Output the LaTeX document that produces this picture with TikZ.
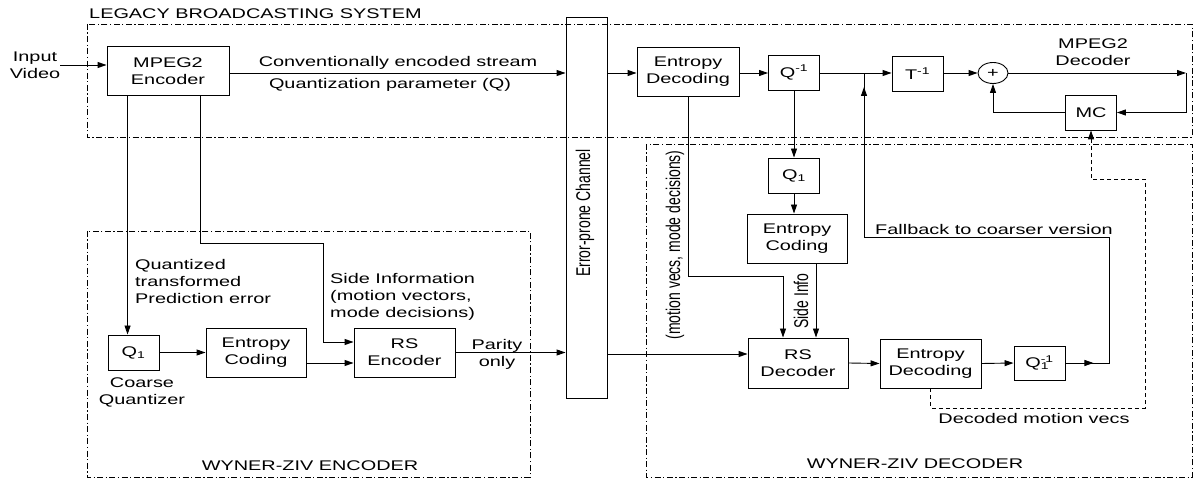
\documentclass[tikz,border=0pt]{standalone}
\usepackage{fontspec}
\setmainfont{Liberation Sans}[FakeStretch=1.42]
\newfontfamily\rotfont{Liberation Sans}
\usetikzlibrary{arrows.meta,shapes.geometric}

\begin{document}
\begin{tikzpicture}[x=1pt, y=-1pt, font=\fontsize{14}{17}\selectfont,
  blk/.style={draw, line width=0.9pt, inner sep=0pt, align=center},
  lbl/.style={inner sep=0pt, align=center},
  wire/.style={line width=0.9pt},
  arr/.style={line width=0.9pt, -{Triangle[length=9pt,width=6pt]}},
  zone/.style={line width=0.8pt, dash pattern=on 6pt off 2.5pt on 1.2pt off 2.5pt},
  vtxt/.style={inner sep=0pt, xscale=1.42, rotate=90, font=\rotfont\fontsize{14}{17}\selectfont}]

	\useasboundingbox (0,0) rectangle (1194,478);

	% zone
	\draw[zone] (87,24) rectangle (1192,137);
	\draw[zone] (87,231) rectangle (530,477);
	\draw[zone] (646,144) rectangle (1192,477);
	\node[lbl, anchor=west] (legacy) at (89,14) {LEGACY BROADCASTING SYSTEM};
	\node[lbl] (wzenc) at (310,466) {WYNER-ZIV ENCODER};
	\node[lbl] (wzdec) at (915,464) {WYNER-ZIV DECODER};

	\coordinate (row) at (0,73);

	% MPEG2 encoder
	\node[lbl] (inp) at (35,65) {Input\\Video};
	\node[blk, minimum width=122pt, minimum height=49pt] (enc) at (168,71) {MPEG2\\Encoder};

	% canale
	\node[blk, minimum width=41pt, minimum height=381pt] (chan) at (586.5,207.5) {};
	\node[vtxt] (chantxt) at (585,213) {Error-prone Channel};

	% MPEG2 decoder
	\node[blk, minimum width=102pt, minimum height=49pt] (entdec) at (688,71.5) {Entropy\\Decoding};
	\node[blk, minimum width=51pt, minimum height=35pt] (qinv) at (794,72.5) {Q\textsuperscript{-1}};
	\node[blk, minimum width=51pt, minimum height=35pt] (tinv) at (917.5,73.5) {T\textsuperscript{-1}};
	\node[blk, ellipse, minimum width=30pt, minimum height=21pt] (sum) at (993,73) {+};
	\node[blk, minimum width=51pt, minimum height=35pt] (mc) at (1091,112.5) {MC};
	\node[lbl] (mpegdec) at (1093,52) {MPEG2\\Decoder};

	\node[lbl] (stream) at (398,63) {Conventionally encoded stream};
	\node[lbl] (qpar) at (390,85) {Quantization parameter (Q)};

	\draw[arr] (inp.east) -- (inp.east -| enc.west);
	\draw[arr] (enc.east |- row) -- (chan.west |- row);
	\draw[arr] (chan.east |- row) -- (entdec.west |- row);
	\draw[arr] (entdec.east |- row) -- (qinv.west |- row);
	\draw[arr] (qinv.east |- row) -- (tinv.west |- row);
	\draw[arr] (tinv.east |- row) -- (sum.west);

	\coordinate (out) at (1186,73);
	\draw[arr] (sum.east) -- (out);
	\draw[arr] (out) |- (mc.east);
	\draw[arr] (mc.west) -| (sum.south);

	% Wyner-Ziv encoder
	\node[blk, minimum width=51pt, minimum height=35pt] (q1e) at (133.5,352.5) {Q\textsubscript{1}};
	\node[blk, minimum width=100pt, minimum height=49pt] (ece) at (256,352.5) {Entropy\\Coding};
	\node[blk, minimum width=101pt, minimum height=49pt] (rse) at (404.5,352.5) {RS\\Encoder};
	\node[lbl] (coarse) at (142,392) {Coarse\\Quantizer};
	\node[lbl, align=left, anchor=west] (qte) at (135,281) {Quantized\\transformed\\Prediction error};
	\node[lbl, align=left, anchor=west] (sinfo) at (330,297) {Side Information\\(motion vectors,\\mode decisions)};
	\node[lbl] (parity) at (497,354) {Parity\\only};

	\coordinate (e1) at ([xshift=21pt]enc.south west);
	\coordinate (e2) at ([xshift=94pt]enc.south west);
	\coordinate (sib) at (323,243);
	\draw[arr] (e1) -- (e1 |- q1e.north);
	\draw[arr] (e2) |- (sib) |- ([yshift=10.5pt]rse.west);
	\draw[arr] (q1e.east) -- (ece.west);
	\draw[arr] ([yshift=-10.5pt]ece.east) -- ([yshift=-10.5pt]rse.west);
	\draw[arr] (rse.east) -- (rse.east -| chan.west);

	% Wyner-Ziv decoder
	\node[blk, minimum width=51pt, minimum height=35pt] (q1d) at (794,175.5) {Q\textsubscript{1}};
	\node[blk, minimum width=100pt, minimum height=49pt] (ecd) at (797,238.5) {Entropy\\Coding};
	\node[blk, minimum width=100pt, minimum height=50pt] (rsd) at (798,363) {RS\\Decoder};
	\node[blk, minimum width=101pt, minimum height=49pt] (edd) at (930.5,363.5) {Entropy\\Decoding};
	\node[blk, minimum width=51pt, minimum height=34pt] (q1inv) at (1039.5,363) {Q\rlap{\textsubscript{1}}\textsuperscript{-1}};

	\node[vtxt] (mvtxt) at (675,245) {(motion vecs, mode decisions)};
	\node[vtxt] (sitxt) at (801,301) {Side Info};
	\node[lbl] (fbtxt) at (994,229) {Fallback to coarser version};
	\node[lbl] (dmv) at (1034,418) {Decoded motion vecs};

	\draw[arr] (qinv.south) -- (q1d.north);
	\draw[arr] (q1d.south) -- (q1d.south |- ecd.north);

	\coordinate (mv) at (783,276);
	\draw[arr] (entdec.south) |- (mv) -- (mv |- rsd.north);
	\coordinate (si) at ([xshift=19pt]ecd.south);
	\draw[arr] (si) -- (si |- rsd.north);

	\coordinate (rsin) at ([yshift=9pt]rsd.west);
	\draw[arr] (rsin -| chan.east) -- (rsin);
	\draw[arr] (rsd.east) -- (edd.west);
	\draw[arr] (edd.east) -- (q1inv.west);

	% fallback
	\coordinate (fb1) at (1109,237);
	\coordinate (fb2) at (864,237);
	\coordinate (fbtip) at (864,87);
	\draw[wire] (q1inv.east) -| (fb1) -- (fb2) -- (fb2 |- row);
	\draw[arr] (q1inv.east) -- ++(28,0);
	\draw[arr] (fb2) -- (fbtip);

	% vettori di moto
	\coordinate (dm1) at (1145,408);
	\coordinate (dm2) at (1091,179);
	\draw[arr, dash pattern=on 4pt off 3pt] (edd.south) |- (dm1) |- (dm2) -- (mc.south);

\end{tikzpicture}
\end{document}
